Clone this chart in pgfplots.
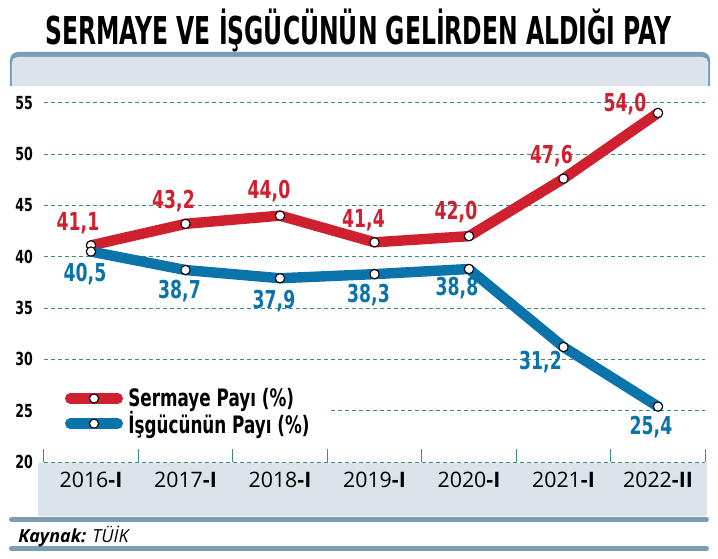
\documentclass[border=0pt]{standalone}
\usepackage{fontspec}
\usepackage{graphicx}
\usepackage{pgfplots}
\usepackage{pgfplotstable}
\pgfplotsset{compat=1.18}
\setmainfont{Open Sans}
\newfontfamily\condfont{DejaVu Sans Bold}[FakeStretch=0.7]
\definecolor{sred}{RGB}{206,32,46}
\definecolor{iblue}{RGB}{10,115,170}
\definecolor{hdark}{RGB}{122,157,181}
\definecolor{hlight}{RGB}{220,227,234}
\definecolor{gteal}{RGB}{60,140,140}

\pgfplotstableread{
x  s     sdx  sdy  w     wdx  wdy
0  41.1  -13  22   40.5  -6   -23
1  43.2  -12  23   38.7  -6   -21
2  44.0  -11  25   37.9  -6   -23
3  41.4  -11  22   38.3  -6   -21
4  42.0  -13  24   38.8  -12  -19
5  47.6  -12  23   31.2  -23  -15
6  54.0  -33   9   25.4  -7   -21
}\datatable

\begin{document}
\begin{tikzpicture}
\begin{scope}[x=0.75pt,y=-0.75pt,shift={(-43.75,-462)}]
\useasboundingbox (0,0) rectangle (718,558);
\fill[white] (0,0) rectangle (718,558);
\node[anchor=base, inner sep=0pt] at (358.5,45) {\resizebox{470pt}{\height}{\condfont\fontsize{28.8}{30}\selectfont SERMAYE VE İŞGÜCÜNÜN GELİRDEN ALDIĞI PAY}};
\fill[hdark] (10,86) [rounded corners=6pt] -- (10,52) -- (710,52) [sharp corners] -- (710,86) -- cycle;
\fill[hlight] (12,86) [rounded corners=4pt] -- (12,57) -- (708,57) [sharp corners] -- (708,86) -- cycle;
\fill[hlight] (38,462.6) rectangle (707,516);
\draw[hdark, line width=3.75pt, line cap=round] (11.5,519.5) -- (706.5,519.5);
\draw[hdark, line width=3.75pt, line cap=round] (11.5,548.5) -- (706.5,548.5);
\node[anchor=base west, inner sep=0pt, font=\fontsize{13.5}{15}\selectfont] at (18,542) {\textbf{\textit{Kaynak:}} \textit{TÜİK}};
\end{scope}
\begin{axis}[
  at={(0,0)}, anchor=south west,
  scale only axis, width=496.125pt, height=269.475pt,
  xmin=-0.5, xmax=6.5, ymin=20, ymax=55,
  axis line style={draw=none},
  xtick={0,...,6},
  xticklabels={2016\textbf{-I},2017\textbf{-I},2018\textbf{-I},2019\textbf{-I},2020\textbf{-I},2021\textbf{-I},2022\textbf{-II}},
  minor xtick={-0.5,0.5,...,6.5},
  ytick={20,25,...,55},
  major tick length=0pt,
  minor tick length=9.75pt,
  tick align=inside,
  xtick pos=left, ytick pos=left,
  minor tick style={draw=gteal, line width=0.7pt},
  ymajorgrids,
  major grid style={draw=gteal, line width=0.7pt, dash pattern=on 3pt off 2.25pt},
  /pgf/number format/assume math mode=true,
  yticklabel style={font=\condfont\fontsize{13.5}{15}\selectfont, anchor=east, inner sep=0pt, xshift=-8pt},
  xticklabel style={font=\fontsize{16}{18}\selectfont, anchor=base, inner sep=0pt, yshift=-18.75pt},
  legend style={at={(axis description cs:0,0.139)}, anchor=west, draw=none, fill=white,
    inner xsep=15.75pt, inner ysep=3pt, nodes={inner sep=0pt}, row sep=2.25pt,
    font=\condfont\fontsize{18}{20}\selectfont, text=black},
  legend cell align=left,
  legend image code/.code={\draw[#1, line cap=round] (0pt,0pt) -- (35.7pt,0pt);
    \draw[fill=white, draw=black, line width=0.8pt, solid] (17.85pt,0pt) circle (3.4pt);},
]
\addplot[sred, line width=7.8pt, line join=round, line cap=round, no markers] table[x=x,y=s]{\datatable};
\addlegendentry{\hspace*{4pt}Sermaye Payı (\%)}
\addplot[iblue, line width=7.8pt, line join=round, line cap=round, no markers] table[x=x,y=w]{\datatable};
\addlegendentry{\hspace*{4pt}İşgücünün Payı (\%)}
\addplot[forget plot, only marks, mark=*, mark size=3.5pt, mark options={fill=white, draw=black, line width=0.8pt},
  point meta=y,
  nodes near coords={\pgfmathprintnumber[fixed,fixed zerofill,precision=1,use comma]{\pgfplotspointmeta}},
  visualization depends on={\thisrow{sdx} \as \dx},
  visualization depends on={\thisrow{sdy} \as \dy},
  every node near coord/.append style={anchor=center, inner sep=0pt, xshift=\dx*0.75pt, yshift=\dy*0.75pt,
    font=\condfont\fontsize{18.5}{20}\selectfont, text=sred}]
  table[x=x,y=s]{\datatable};
\addplot[forget plot, only marks, mark=*, mark size=3.5pt, mark options={fill=white, draw=black, line width=0.8pt},
  point meta=y,
  nodes near coords={\pgfmathprintnumber[fixed,fixed zerofill,precision=1,use comma]{\pgfplotspointmeta}},
  visualization depends on={\thisrow{wdx} \as \dx},
  visualization depends on={\thisrow{wdy} \as \dy},
  every node near coord/.append style={anchor=center, inner sep=0pt, xshift=\dx*0.75pt, yshift=\dy*0.75pt,
    font=\condfont\fontsize{18.5}{20}\selectfont, text=iblue}]
  table[x=x,y=w]{\datatable};
\end{axis}
\end{tikzpicture}
\end{document}
